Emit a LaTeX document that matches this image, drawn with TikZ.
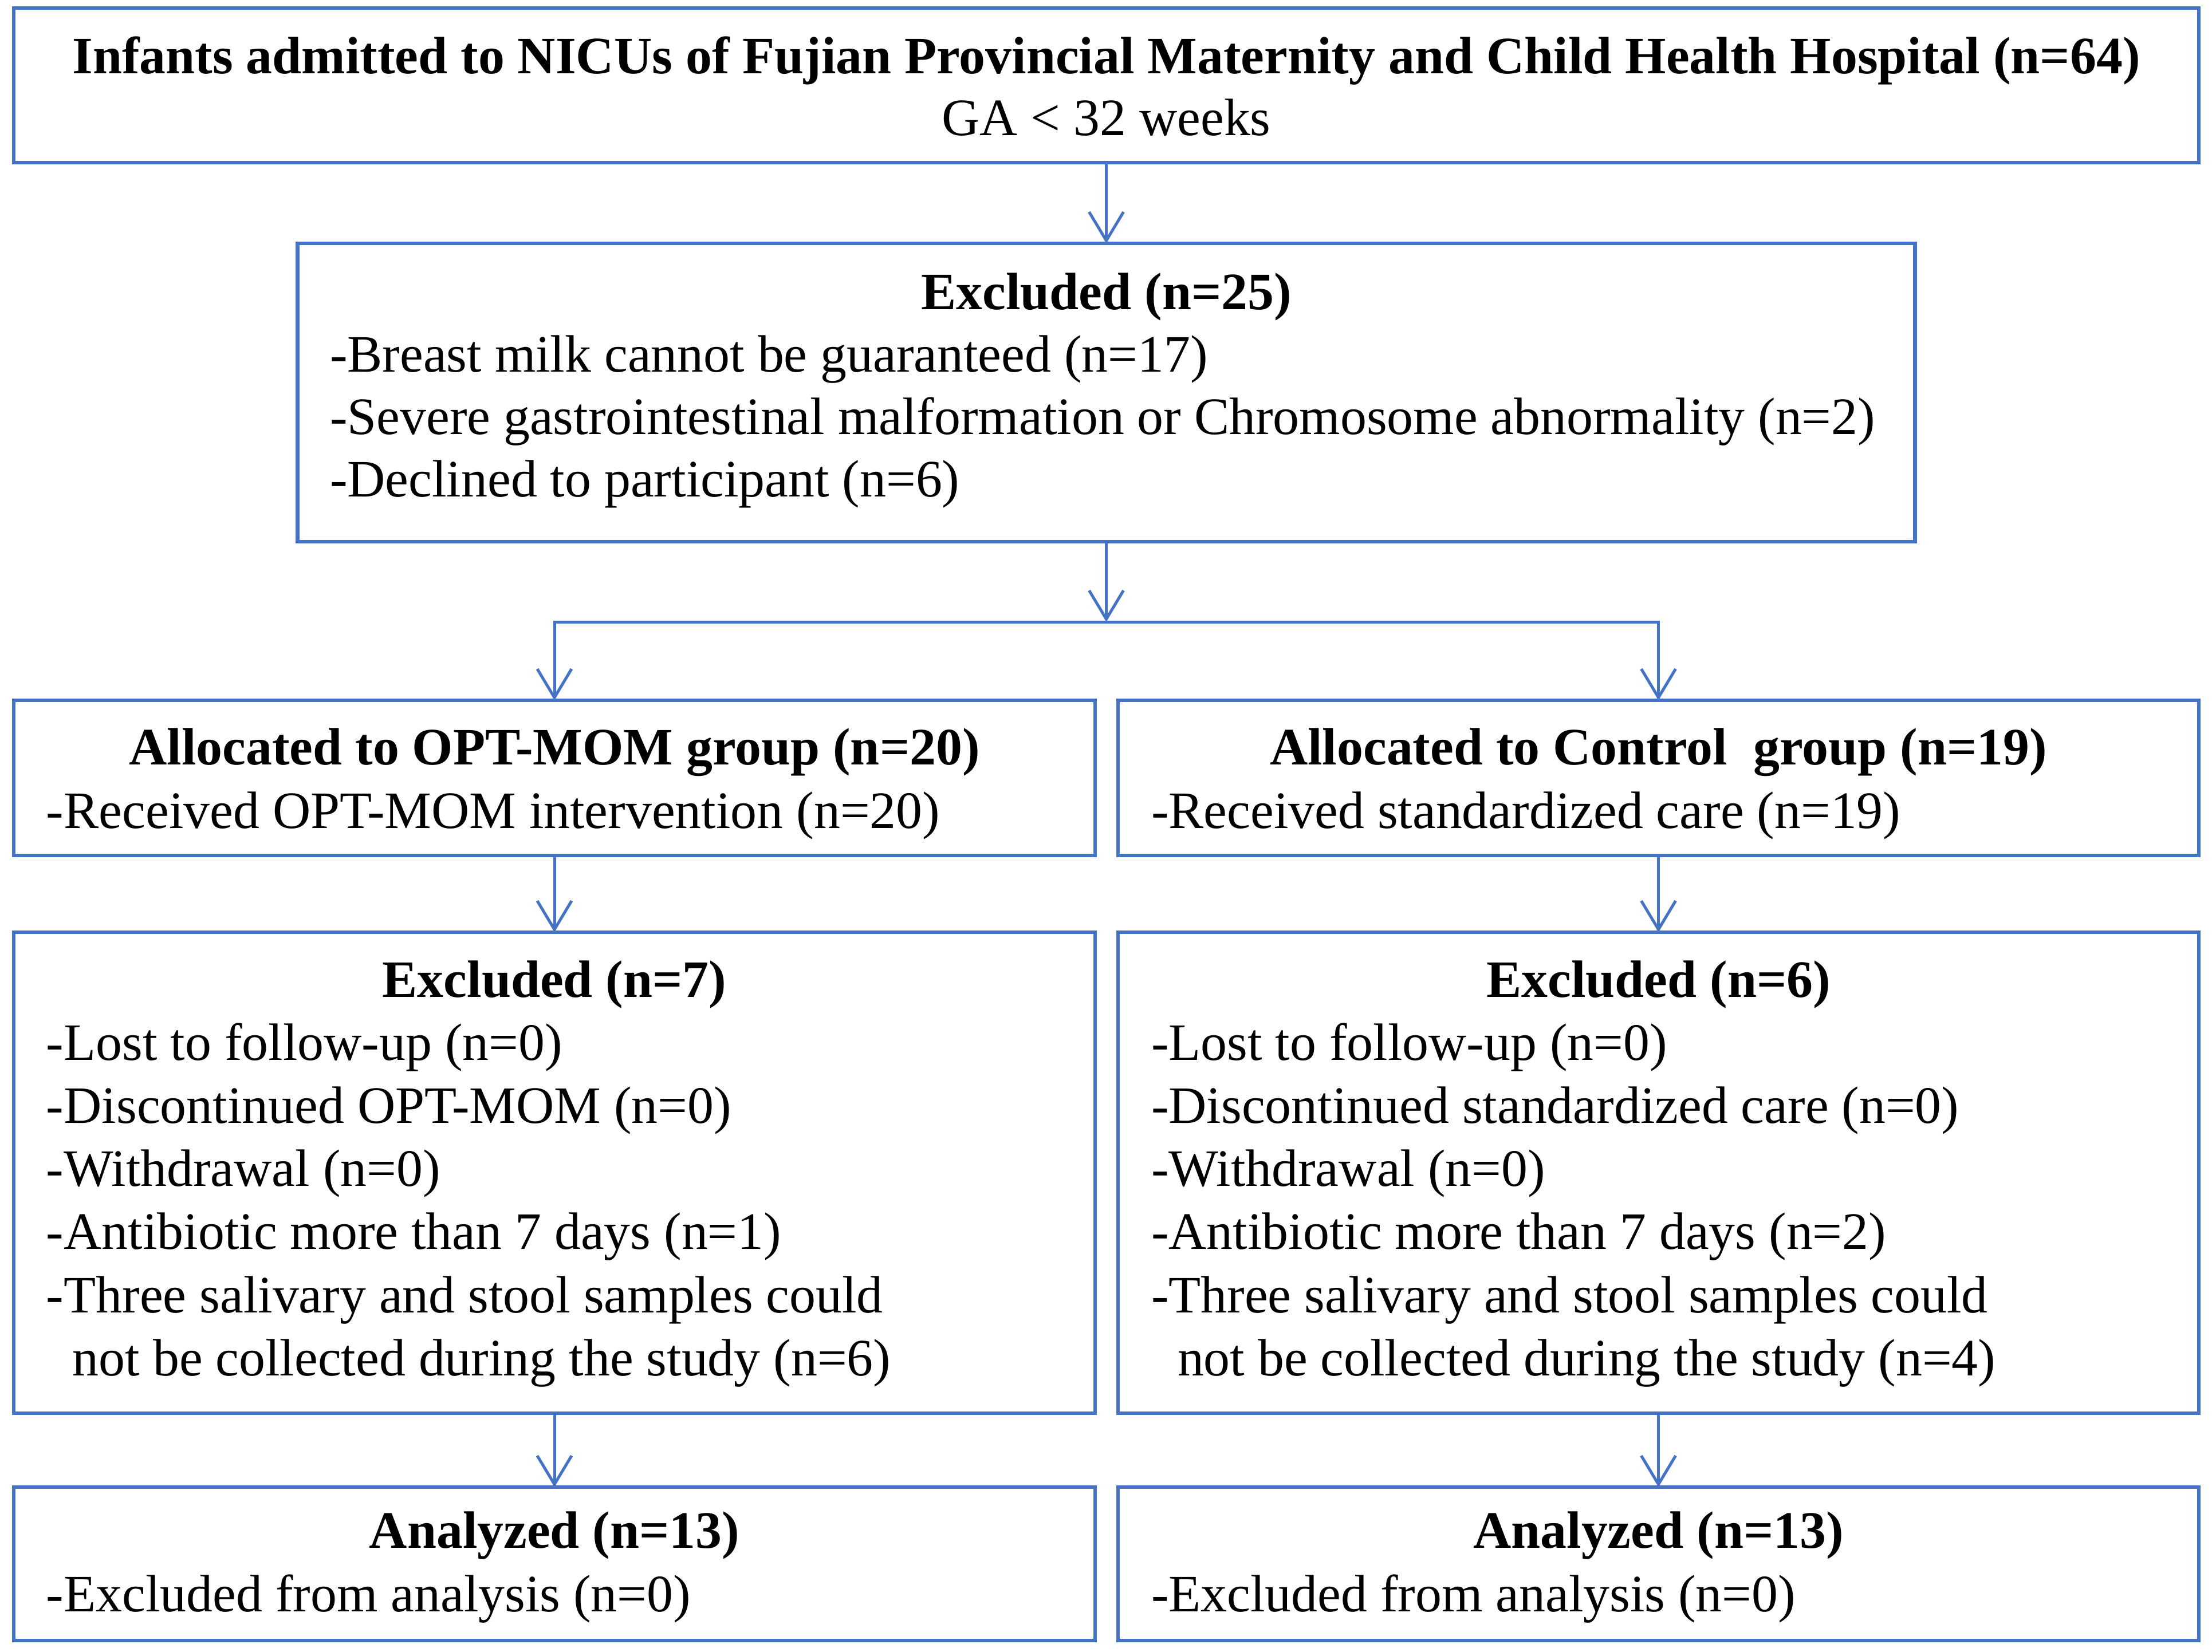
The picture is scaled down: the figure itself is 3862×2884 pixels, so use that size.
\documentclass[tikz,border=0pt]{standalone}
\usepackage{fontspec}
\setmainfont{Liberation Serif}
\usetikzlibrary{arrows.meta}
\definecolor{boxblue}{RGB}{68,114,196}
\tikzset{
  box/.style={draw=boxblue, line width=0.65pt, inner sep=0pt, outer sep=0pt},
  flow/.style={draw=boxblue, line width=0.5pt, -{Straight Barb[length=5pt,width=6pt]}},
  head/.style={font=\fontsize{9.18}{11}\selectfont\bfseries, anchor=base, inner sep=0pt},
  note/.style={font=\fontsize{9.18}{11}\selectfont, anchor=base, inner sep=0pt},
  item/.style={font=\fontsize{9.18}{11}\selectfont, anchor=base west, inner sep=0pt},
}
\begin{document}
\begin{tikzpicture}[x=0.1pt, y=-0.1pt]
\useasboundingbox (0,0) rectangle (3862,2884);

% boxes
\node[box, minimum width=381.5pt, minimum height=27pt] (infants) at (1931.5,149){};
\node[box, minimum width=282.4pt, minimum height=52.1pt] (excl) at (1931.5,685.5){};
\node[box, minimum width=188.8pt, minimum height=27.1pt] (optmom) at (968,1358.5){};
\node[box, minimum width=188.7pt, minimum height=27.1pt] (ctrl) at (2895.5,1358.5){};
\node[box, minimum width=188.8pt, minimum height=84pt] (exclL) at (968,2048){};
\node[box, minimum width=188.7pt, minimum height=84pt] (exclR) at (2895.5,2048){};
\node[box, minimum width=188.8pt, minimum height=26.8pt] (anaL) at (968,2731){};
\node[box, minimum width=188.7pt, minimum height=26.8pt] (anaR) at (2895.5,2731){};

% texts
\node[head] (infantsT) at (1931.5,128){Infants admitted to NICUs of Fujian Provincial Maternity and Child Health Hospital (n=64)};
\node[note] (infantsGA) at (1931.5,236){GA < 32 weeks};

\node[head] (exclT) at (1931.5,540){Excluded (n=25)};
\foreach \txt [count=\i] in {-Breast milk cannot be guaranteed (n=17),
  -Severe gastrointestinal malformation or Chromosome abnormality (n=2),
  -Declined to participant (n=6)}
  \node[item] (excl\i) at (574,{540+\i*109}){\txt};

\node[head] (optmomT) at (968,1335){Allocated to OPT-MOM group (n=20)};
\node[item] (optmom1) at (79,1446){-Received OPT-MOM intervention (n=20)};
\node[head] (ctrlT) at (2895.5,1335){Allocated to Control~~group (n=19)};
\node[item] (ctrl1) at (2008,1446){-Received standardized care (n=19)};

\node[head] (exclLT) at (968,1741){Excluded (n=7)};
\foreach \txt [count=\i] in {-Lost to follow-up (n=0),
  -Discontinued OPT-MOM (n=0),
  -Withdrawal (n=0),
  -Antibiotic more than 7 days (n=1),
  -Three salivary and stool samples could,
  \hspace*{4.6pt}not be collected during the study (n=6)}
  \node[item] (exclL\i) at (79,{1741+\i*110.2}){\txt};

\node[head] (exclRT) at (2895.5,1741){Excluded (n=6)};
\foreach \txt [count=\i] in {-Lost to follow-up (n=0),
  -Discontinued standardized care (n=0),
  -Withdrawal (n=0),
  -Antibiotic more than 7 days (n=2),
  -Three salivary and stool samples could,
  \hspace*{4.6pt}not be collected during the study (n=4)}
  \node[item] (exclR\i) at (2008,{1741+\i*110.2}){\txt};

\node[head] (anaLT) at (968,2703){Analyzed (n=13)};
\node[item] (anaL1) at (79,2814){-Excluded from analysis (n=0)};
\node[head] (anaRT) at (2895.5,2703){Analyzed (n=13)};
\node[item] (anaR1) at (2008,2814){-Excluded from analysis (n=0)};

% connectors
\coordinate (fork) at (1931.5,1086);
\coordinate (forkL) at (968,1086);
\coordinate (forkR) at (2895.5,1086);

\draw[flow] (infants) -- (excl);
\draw[flow] (excl) -- (fork);
\draw[flow] (fork) -- (forkL) -- (optmom);
\draw[flow] (fork) -- (forkR) -- (ctrl);
\draw[flow] (optmom) -- (exclL);
\draw[flow] (ctrl) -- (exclR);
\draw[flow] (exclL) -- (anaL);
\draw[flow] (exclR) -- (anaR);

\end{tikzpicture}
\end{document}
